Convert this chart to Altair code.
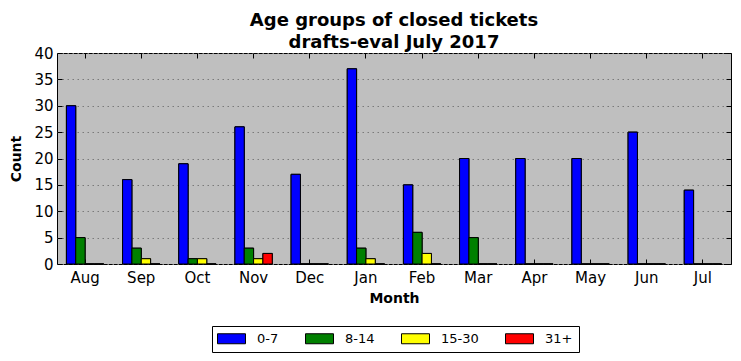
import altair as alt
import pandas as pd

months = ["Aug", "Sep", "Oct", "Nov", "Dec", "Jan", "Feb", "Mar", "Apr", "May", "Jun", "Jul"]
series = ["0-7", "8-14", "15-30", "31+"]
colors = ["#0000ff", "#008000", "#ffff00", "#ff0000"]
v_0_7 = [30, 16, 19, 26, 17, 37, 15, 20, 20, 20, 25, 14]
v_8_14 = [5, 3, 1, 3, 0, 3, 6, 5, 0, 0, 0, 0]
v_15_30 = [0, 1, 1, 1, 0, 1, 2, 0, 0, 0, 0, 0]
v_31 = [0, 0, 0, 2, 0, 0, 0, 0, 0, 0, 0, 0]
y_ticks = [0, 5, 10, 15, 20, 25, 30, 35, 40]

rows = []
for s, vals in zip(series, [v_0_7, v_8_14, v_15_30, v_31]):
    for m, v in zip(months, vals):
        rows.append({"Month": m, "Age": s, "Count": v})
df = pd.DataFrame(rows)

FONT = "DejaVu Sans"

xscale = alt.Scale(domain=months, paddingInner=0.335, paddingOuter=0.1675)
yscale = alt.Scale(domain=[0, 40], nice=False)
cscale = alt.Scale(domain=series, range=colors)

legend = alt.Legend(
    title=None, orient="none", legendX=155, legendY=273, direction="horizontal", columns=4,
    symbolType="M-2.8,-1H2.8V1H-2.8Z", symbolSize=100, symbolStrokeColor="black",
    symbolStrokeWidth=1, symbolOpacity=1, symbolOffset=7, labelFont=FONT, labelFontSize=13,
    labelColor="black", labelOffset=19, columnPadding=24, padding=6, strokeColor="black",
    fillColor="white",
)

base = alt.Chart(df).mark_bar(stroke="black", strokeWidth=1, opacity=1)

main = base.encode(
    x=alt.X("Month:N", scale=xscale, sort=months, title="Month",
            axis=alt.Axis(orient="bottom", labelAngle=0, domain=False, offset=-5, tickSize=5,
                          tickColor="black", bandPosition=0.5, labelPadding=6, labelFont=FONT,
                          labelFontSize=15, labelColor="black", titleFont=FONT, titleFontSize=14,
                          titleFontWeight="bold", titleColor="black", titlePadding=6, grid=False)),
    xOffset=alt.XOffset("Age:N", sort=series, scale=alt.Scale(domain=series, paddingInner=0, paddingOuter=0)),
    y=alt.Y("Count:Q", scale=yscale, title="Count",
            axis=alt.Axis(orient="left", values=y_ticks, domain=False, offset=-5, tickSize=5,
                          tickColor="black", labelPadding=4, labelFont=FONT, labelFontSize=15,
                          labelColor="black", titleFont=FONT, titleFontSize=14, titleFontWeight="bold",
                          titleColor="black", titlePadding=10, grid=True, gridColor="#7a7a7a",
                          gridDash=[1.5, 3.5], gridWidth=1)),
    color=alt.Color("Age:N", scale=cscale, sort=series, legend=legend),
)

ticks2 = base.encode(
    x=alt.X("Month:N", scale=xscale, sort=months,
            axis=alt.Axis(orient="top", labels=False, title=None, domain=False, offset=-5,
                          tickSize=5, tickColor="black", bandPosition=0.5, grid=False)),
    xOffset=alt.XOffset("Age:N", sort=series, scale=alt.Scale(domain=series, paddingInner=0, paddingOuter=0)),
    y=alt.Y("Count:Q", scale=yscale,
            axis=alt.Axis(orient="right", values=y_ticks, labels=False, title=None, domain=False,
                          offset=-5, tickSize=5, tickColor="black", grid=False)),
    color=alt.Color("Age:N", scale=cscale, sort=series, legend=None),
)

chart = alt.layer(main, ticks2).properties(
    width=674, height=211,
    title=alt.Title(["Age groups of closed tickets", "drafts-eval July 2017"], anchor="middle",
                    frame="group", font=FONT, fontSize=18, fontWeight="bold", color="black",
                    lineHeight=22, offset=-6),
    autosize=alt.AutoSizeParams(type="none"),
    padding={"left": 49, "top": 45, "right": 2, "bottom": 90},
).configure_view(fill="#bfbfbf", stroke="black", strokeWidth=1)

chart.save("out.html", embed_options={"renderer": "svg", "actions": False})
